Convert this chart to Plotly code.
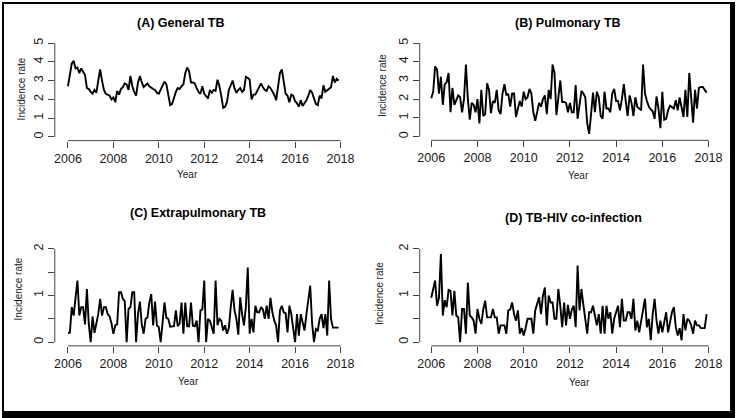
import plotly.graph_objects as go

W, H = 740, 418

# ---------------- data (monthly, Jan 2006 - Dec 2017) ----------------
start_year = 2006
n_months = 144

general_tb = [
    2.7, 3.3, 3.9, 4.05, 3.65, 3.7, 3.4, 3.65, 3.5, 3.3, 2.6, 2.55,
    2.4, 2.3, 2.5, 2.35, 3.0, 3.6, 3.0, 2.5, 2.3, 2.25, 2.2, 2.0,
    2.1, 1.85, 2.45, 2.25, 2.55, 2.65, 2.85, 2.8, 2.5, 3.25, 2.7, 2.4,
    2.2, 2.9, 3.25, 2.9, 2.65, 2.75, 2.85, 2.7, 2.6, 2.55, 2.5, 2.35,
    2.3, 2.5, 2.7, 2.95, 2.8, 2.2, 1.7, 1.75, 2.1, 2.4, 2.6, 2.55,
    2.7, 2.8, 3.4, 3.7, 3.5, 2.9, 2.9, 2.85, 2.6, 2.4, 2.3, 2.7,
    2.3, 2.2, 2.05, 2.5, 2.35, 2.5, 2.45, 3.05, 2.7, 2.2, 1.55, 1.6,
    1.85, 2.5, 2.8, 3.0, 2.6, 2.35, 2.5, 2.6, 2.4, 2.5, 3.2, 3.15,
    3.05, 2.0, 2.25, 2.25, 2.45, 2.65, 2.85, 2.65, 2.5, 2.45, 2.7, 2.6,
    2.45, 2.25, 1.95, 2.7, 3.4, 3.6, 3.0, 2.3, 2.2, 1.85, 2.25, 2.2,
    1.9, 1.8, 1.6, 1.95, 1.65, 1.8, 1.95, 2.2, 2.5, 2.35, 2.0, 1.75,
    1.7, 2.2, 2.05, 2.75, 2.4, 2.5, 2.6, 2.65, 3.25, 2.9, 3.1, 3.0,
]

pulmonary_tb = [
    2.05, 2.4, 3.75, 3.6, 2.3, 3.2, 1.7, 2.8, 2.9, 3.4, 1.3, 2.6,
    1.7, 2.0, 2.2, 2.1, 1.3, 2.0, 3.85, 2.0, 0.9, 1.8, 1.7, 1.3,
    2.0, 0.7, 2.5, 1.1, 1.2, 2.85, 2.5, 1.25, 1.9, 1.8, 2.5, 1.4,
    1.2, 2.3, 2.8, 2.2, 2.3, 1.6, 2.3, 2.3, 1.05, 1.5, 1.9, 1.6,
    2.4, 2.0, 2.1, 2.55, 2.3, 1.3, 0.85, 1.3, 1.8, 1.6, 2.0, 2.2,
    1.2, 2.5, 2.0, 3.85, 3.4, 1.15, 2.2, 3.0, 1.85, 1.85, 1.8, 1.3,
    1.8, 1.3, 1.3, 2.75, 0.95, 1.7, 2.45, 2.3, 2.1, 0.7, 0.15, 1.2,
    2.35, 1.3, 2.4, 2.1, 1.1, 0.95, 2.4, 1.5, 1.5, 1.3, 2.3, 2.55,
    1.9, 1.9, 1.4, 2.0, 2.8, 1.9, 1.1, 2.2, 1.8, 1.1, 2.1, 1.6,
    1.5, 1.4, 3.85, 2.3, 1.9, 1.6, 1.45, 1.35, 0.95, 2.15, 1.5, 0.45,
    2.4, 0.9, 0.95, 1.4, 1.65, 1.55, 1.5, 1.95, 1.4, 2.1, 1.6, 1.05,
    2.5, 1.05, 3.4, 1.8, 0.75, 2.5, 1.5, 2.6, 2.65, 2.65, 2.5, 2.35,
]

extrapulmonary_tb = [
    0.2, 0.2, 0.75, 0.57, 0.95, 1.32, 0.57, 0.75, 0.75, 0.38, 1.14, 0.39,
    0.0, 0.55, 0.2, 0.4, 0.6, 0.93, 0.57, 0.75, 0.75, 0.6, 0.55, 0.4,
    0.18, 0.36, 0.38, 1.07, 1.07, 0.93, 0.88, 0.0, 0.71, 0.75, 1.07, 1.07,
    0.0, 0.6, 0.87, 0.38, 0.18, 0.5, 0.53, 0.85, 1.03, 0.36, 0.87, 0.36,
    0.32, 0.0, 0.36, 0.85, 0.52, 0.5, 0.33, 0.34, 0.34, 0.68, 0.34, 0.4,
    0.85, 0.18, 0.85, 0.34, 0.34, 0.85, 0.35, 0.34, 0.46, 0.0, 0.68, 0.7,
    1.32, 0.0, 0.5, 0.46, 0.3, 0.18, 1.32, 0.36, 0.5, 0.46, 0.25, 0.36,
    0.18, 0.3, 0.75, 1.12, 0.68, 0.5, 0.16, 0.96, 0.6, 0.36, 0.75, 1.6,
    0.18, 0.5, 0.21, 0.78, 0.64, 0.64, 0.75, 0.7, 0.5, 0.78, 0.5, 0.95,
    0.64, 0.46, 0.36, 0.0, 0.68, 0.78, 0.64, 0.62, 0.21, 0.78, 0.6, 0.28,
    0.0, 0.6, 0.14, 0.6, 0.4, 0.25, 0.6, 0.9, 1.21, 0.4, 0.0, 0.28,
    0.25, 0.5, 0.6, 0.3, 0.6, 0.14, 1.32, 0.5, 0.31, 0.31, 0.31, 0.31,
]

tb_hiv = [
    0.95, 1.15, 1.32, 0.78, 0.95, 1.89, 0.57, 0.9, 0.75, 1.12, 1.1, 0.57,
    1.1, 0.57, 0.53, 0.0, 0.71, 0.71, 0.18, 1.28, 0.57, 0.53, 0.46, 0.18,
    0.71, 0.5, 0.39, 0.7, 0.89, 0.53, 0.53, 0.53, 0.71, 0.53, 0.53, 0.18,
    0.36, 0.36, 0.36, 0.18, 0.68, 0.7, 0.85, 0.6, 0.46, 0.68, 0.18, 0.3,
    0.14, 0.3, 0.5, 0.5, 0.5, 0.18, 0.68, 0.82, 0.96, 0.6, 1.0, 1.17,
    0.36, 1.0, 0.85, 0.85, 0.5, 0.5, 1.14, 0.78, 0.32, 0.85, 0.36, 0.8,
    0.5, 0.7, 0.78, 0.32, 1.64, 0.68, 1.14, 0.8, 0.53, 0.18, 0.64, 0.64,
    0.78, 0.6, 0.36, 0.6, 0.18, 0.78, 0.18, 0.78, 0.5, 0.64, 0.18, 0.5,
    0.64, 0.78, 0.32, 0.93, 0.46, 0.46, 0.64, 0.64, 0.5, 0.93, 0.25, 0.46,
    0.21, 0.46, 0.64, 0.93, 0.32, 0.5, 0.04, 0.6, 0.93, 0.46, 0.18, 0.46,
    0.21, 0.46, 0.64, 0.21, 0.46, 0.64, 0.75, 0.32, 0.14, 0.3, 0.04, 0.6,
    0.25, 0.5, 0.46, 0.36, 0.18, 0.46, 0.36, 0.36, 0.3, 0.3, 0.3, 0.6,
]

titles = ["(A) General TB", "(B) Pulmonary TB", "(C) Extrapulmonary TB", "(D) TB-HIV co-infection"]
x_ticks = [2006, 2008, 2010, 2012, 2014, 2016, 2018]
y_ticks_top = [0, 1, 2, 3, 4, 5]
y_ticks_bottom = [0, 0.5, 1, 1.5, 2]
y_ticktext_bottom = ["0", "", "1", "", "2"]

t = [start_year + m / 12 for m in range(n_months)]

# ---------------- layout helpers (pixel -> paper) ----------------
def fx(px):
    return px / W

def fy(py):
    return 1 - py / H

FONT = "Liberation Sans, Arial, sans-serif"
INK = "#1a1a1a"

panels = [
    dict(y=general_tb, xd=(53.3, 350.9), yd=(37.5, 139.3), xr=(2005.42, 2018.40),
         yr=(-0.2, 5.2), yt=y_ticks_top, ytt=[str(v) for v in y_ticks_top], ylim=(0, 5),
         title=(180.5, 21), year=(187, 173), inc=(20, 87)),
    dict(y=pulmonary_tb, xd=(421.7, 722.6), yd=(37.5, 139.0), xr=(2005.50, 2018.40),
         yr=(-0.2, 5.2), yt=y_ticks_top, ytt=[str(v) for v in y_ticks_top], ylim=(0, 5),
         title=(571.7, 21), year=(582, 174), inc=(384, 84)),
    dict(y=extrapulmonary_tb, xd=(53.3, 350.9), yd=(244.3, 345.5), xr=(2005.42, 2018.40),
         yr=(-0.08, 2.08), yt=y_ticks_bottom, ytt=y_ticktext_bottom, ylim=(0, 2),
         title=(197.5, 212), year=(188, 381), inc=(17, 288)),
    dict(y=tb_hiv, xd=(421.7, 722.6), yd=(244.3, 345.5), xr=(2005.50, 2018.40),
         yr=(-0.08, 2.08), yt=y_ticks_bottom, ytt=y_ticktext_bottom, ylim=(0, 2),
         title=(576.5, 217), year=(583, 382), inc=(381, 293)),
]

fig = go.Figure()
layout = dict(
    width=W, height=H,
    margin=dict(l=0, r=0, t=0, b=0),
    paper_bgcolor="white", plot_bgcolor="white",
    showlegend=False,
    font=dict(family=FONT, color=INK),
)
shapes = []
annotations = []

for i, p in enumerate(panels, start=1):
    xa = "x" if i == 1 else f"x{i}"
    ya = "y" if i == 1 else f"y{i}"
    fig.add_trace(go.Scatter(
        x=t, y=p["y"], mode="lines", xaxis=xa, yaxis=ya,
        line=dict(color="black", width=1.9), hoverinfo="skip",
    ))
    xkey = "xaxis" if i == 1 else f"xaxis{i}"
    ykey = "yaxis" if i == 1 else f"yaxis{i}"
    layout[xkey] = dict(
        domain=[fx(p["xd"][0]), fx(p["xd"][1])], range=list(p["xr"]),
        anchor=ya, showgrid=False, zeroline=False, showline=False,
        ticks="outside", ticklen=6, tickwidth=1, tickcolor="#444",
        tickvals=x_ticks, ticktext=[str(v) for v in x_ticks],
        tickfont=dict(size=12.5, family=FONT, color=INK),
    )
    layout[ykey] = dict(
        domain=[fy(p["yd"][1]), fy(p["yd"][0])], range=list(p["yr"]),
        anchor=xa, showgrid=False, zeroline=False, showline=False,
        ticks="outside", ticklen=6, tickwidth=1, tickcolor="#444",
        tickvals=p["yt"], ticktext=p["ytt"], tickangle=-90,
        tickfont=dict(size=12.5, family=FONT, color=INK),
    )
    shapes.append(dict(type="line", xref=xa, yref=f"{ya} domain",
                       x0=x_ticks[0], x1=x_ticks[-1], y0=0, y1=0,
                       line=dict(color="#444", width=1)))
    shapes.append(dict(type="line", xref=f"{xa} domain", yref=ya,
                       x0=0, x1=0, y0=p["ylim"][0], y1=p["ylim"][1],
                       line=dict(color="#444", width=1)))
    annotations.append(dict(text=f"<b>{titles[i-1]}</b>", x=fx(p["title"][0]), y=fy(p["title"][1]),
                            xref="paper", yref="paper", showarrow=False,
                            xanchor="center", yanchor="middle",
                            font=dict(size=12.5, family=FONT, color="black")))
    annotations.append(dict(text="Year", x=fx(p["year"][0]), y=fy(p["year"][1]),
                            xref="paper", yref="paper", showarrow=False,
                            xanchor="center", yanchor="middle",
                            font=dict(size=10, family=FONT, color=INK)))
    annotations.append(dict(text="Incidence rate", x=fx(p["inc"][0]), y=fy(p["inc"][1]),
                            xref="paper", yref="paper", showarrow=False, textangle=-90,
                            xanchor="center", yanchor="middle",
                            font=dict(size=10, family=FONT, color=INK)))

# black frame around the whole picture
frame = [(0, 0, 2, H), (0, 0, W, 2), (735, 0, W, H), (0, 411, W, H)]
for x0, y0, x1, y1 in frame:
    shapes.append(dict(type="rect", xref="paper", yref="paper",
                       x0=fx(x0), x1=fx(x1), y0=fy(y1), y1=fy(y0),
                       fillcolor="black", line=dict(width=0), layer="above"))

layout["shapes"] = shapes
layout["annotations"] = annotations
fig.update_layout(**layout)
fig.write_html(
    "out.html",
    config={"displayModeBar": False, "staticPlot": True},
    post_script="document.body.style.margin='0';document.body.style.overflow='hidden';",
)
